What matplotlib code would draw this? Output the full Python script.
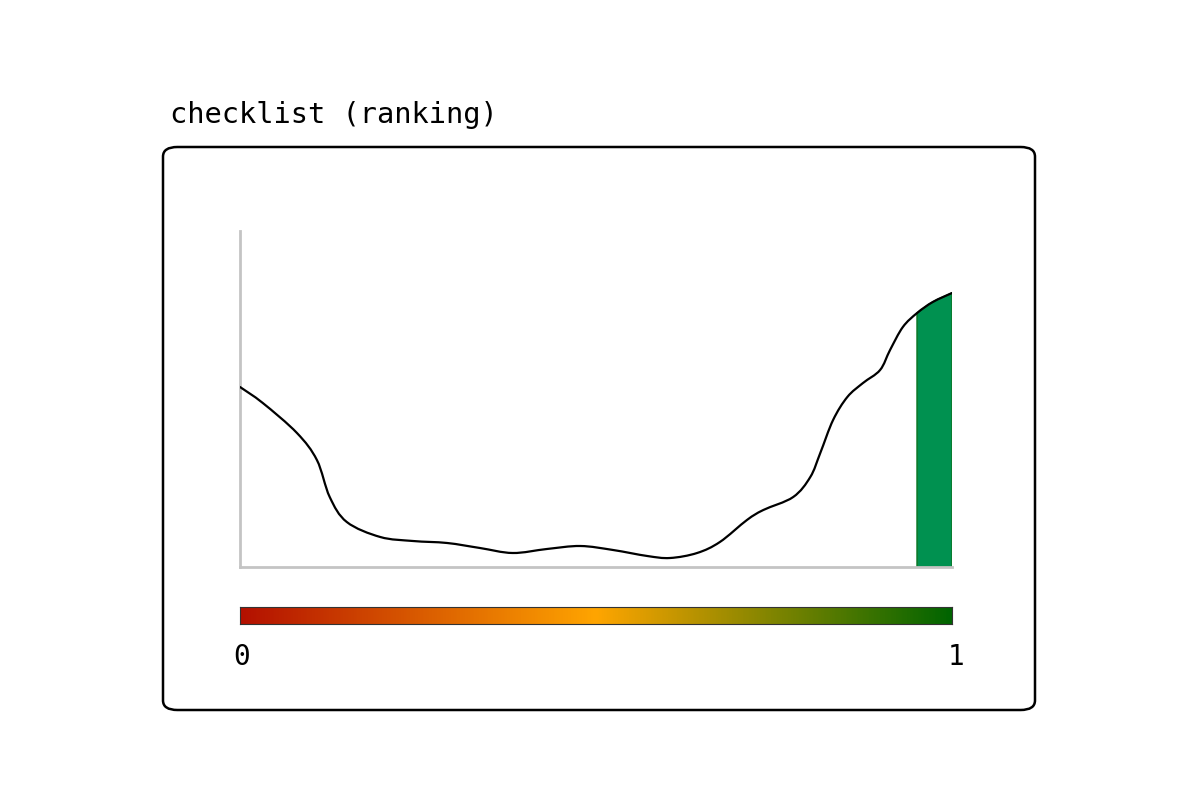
from matplotlib import pyplot as plt
from matplotlib.patches import FancyBboxPatch, PathPatch
from matplotlib.path import Path
from matplotlib.colors import LinearSegmentedColormap
import numpy as np

# ranking score (0..1) and its density curve
score = [0.0, 0.032, 0.080, 0.108, 0.126, 0.150, 0.197, 0.243, 0.291, 0.337,
         0.383, 0.431, 0.478, 0.524, 0.572, 0.604, 0.642, 0.674, 0.712, 0.735,
         0.777, 0.801, 0.815, 0.833, 0.853, 0.875, 0.899, 0.913, 0.931, 0.951,
         0.973, 1.0]
density = [1.80, 1.64, 1.34, 1.07, 0.70, 0.45, 0.30, 0.26, 0.24, 0.19,
           0.14, 0.18, 0.21, 0.17, 0.11, 0.09, 0.14, 0.25, 0.47, 0.57,
           0.70, 0.90, 1.14, 1.47, 1.70, 1.84, 1.97, 2.17, 2.40, 2.54,
           2.65, 2.74]
marker_score = 0.951  # where the highlighted band starts
title = "checklist (ranking)"


def smooth_verts(pts):
    # catmull-rom through the points, as cubic bezier segments
    verts = [pts[0]]
    codes = [Path.MOVETO]
    n = len(pts)
    for i in range(n - 1):
        p0 = pts[max(i - 1, 0)]
        p1 = pts[i]
        p2 = pts[i + 1]
        p3 = pts[min(i + 2, n - 1)]
        verts += [p1 + (p2 - p0) / 6, p2 - (p3 - p1) / 6, p2]
        codes += [Path.CURVE4] * 3
    return verts, codes


fig = plt.figure(figsize=(12, 8), dpi=100)

# card frame
frame = FancyBboxPatch((163/1200, 1-710/800), (1035-163)/1200, (710-147)/800,
                       boxstyle="round,pad=0,rounding_size=0.012",
                       transform=fig.transFigure, fill=False,
                       edgecolor='black', linewidth=1.8)
fig.patches.append(frame)

fig.text(170/1200, 1-123/800, title, family='DejaVu Sans Mono',
         fontsize=20.6, va='baseline', ha='left')

ax = fig.add_axes([0.2, 0.29125, 0.79333-0.2, 0.71125-0.29125])
pts = np.column_stack([score, density])

# highlighted band under the top end of the curve
sel = pts[pts[:, 0] >= marker_score]
v, c = smooth_verts(sel)
v = v + [np.array([sel[-1, 0], 0]), np.array([sel[0, 0], 0]), sel[0]]
c = c + [Path.LINETO, Path.LINETO, Path.CLOSEPOLY]
ax.add_patch(PathPatch(Path(v, c), facecolor='#009150', edgecolor='#0b7a2a',
                       linewidth=1.2, zorder=2))

v, c = smooth_verts(pts)
ax.add_patch(PathPatch(Path(v, c), facecolor='none', edgecolor='black',
                       linewidth=1.6, zorder=3, capstyle='round'))

ax.set_xlim(0, 1)
ax.set_ylim(0, 3.36)
for s in ['top', 'right']:
    ax.spines[s].set_visible(False)
for s in ['left', 'bottom']:
    ax.spines[s].set_color('#c4c4c4')
    ax.spines[s].set_linewidth(2)
ax.set_xticks([])
ax.set_yticks([])

# colour scale bar
cmap = LinearSegmentedColormap.from_list('rank', ['#b31000', '#ffa500', '#006400'])
cax = fig.add_axes([0.2, 1-624/800, 0.79333-0.2, 17/800])
cax.imshow(np.linspace(0, 1, 512).reshape(1, -1), aspect='auto', cmap=cmap,
           extent=[0, 1, 0, 1])
cax.set_xticks([])
cax.set_yticks([])
for s in cax.spines.values():
    s.set_linewidth(0.8)
    s.set_color('#333333')

fig.text(242/1200, 1-657/800, "0", family='DejaVu Sans Mono', fontsize=20,
         ha='center', va='center')
fig.text(956/1200, 1-657/800, "1", family='DejaVu Sans Mono', fontsize=20,
         ha='center', va='center')

fig.savefig("out.png")
